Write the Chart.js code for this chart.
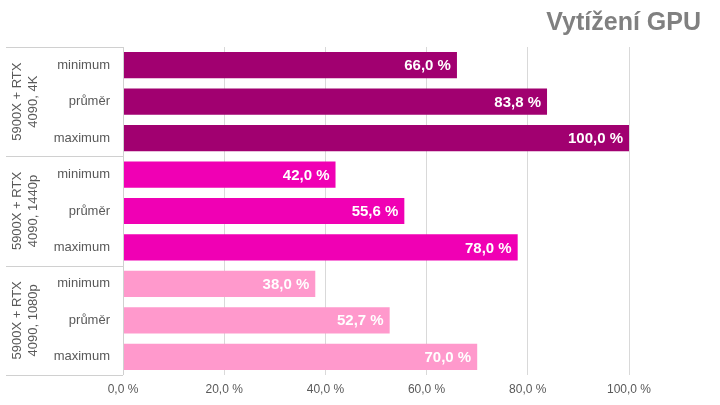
<!DOCTYPE html>
<html>
<head>
<meta charset="utf-8">
<script src="https://cdn.jsdelivr.net/npm/chart.js@4/dist/chart.umd.min.js"></script>
<style>
html,body{margin:0;padding:0;background:#fff;}
#wrap{width:720px;height:405px;position:relative;}
</style>
</head>
<body>
<div id="wrap"><canvas id="c" width="720" height="405"></canvas></div>
<script>
const titleText = 'Vytížení GPU';
const categories = ['minimum', 'průměr', 'maximum'];
const groups = [['5900X + RTX', '4090, 4K'], ['5900X + RTX', '4090, 1440p'], ['5900X + RTX', '4090, 1080p']];
const values4K = [66.0, 83.8, 100.0];
const values1440 = [42.0, 55.6, 78.0];
const values1080 = [38.0, 52.7, 70.0];
const groupColors = ['#A10070', '#F000B4', '#FF99CC'];
const xTicks = [0, 20, 40, 60, 80, 100];

const groupValues = [values4K, values1440, values1080];
const labels = [];
const data = [];
const colors = [];
groupValues.forEach((vals, g) => {
  vals.forEach((v, i) => {
    labels.push(categories[i]);
    data.push(v);
    colors.push(groupColors[g]);
  });
});

const fmt = v => v.toFixed(1).replace('.', ',') + ' %';

const decor = {
  id: 'decor',
  afterDraw(chart) {
    const ctx = chart.ctx;
    const y = chart.scales.y;
    const area = chart.chartArea;
    const n = categories.length;
    // separators
    ctx.save();
    ctx.strokeStyle = '#d0d0d0';
    ctx.lineWidth = 1;
    const step = (area.bottom - area.top) / labels.length;
    for (let g = 0; g <= groups.length; g++) {
      const yy = Math.round(area.top + g * n * step) + 0.5;
      ctx.beginPath();
      ctx.moveTo(6, yy);
      ctx.lineTo(area.left, yy);
      ctx.stroke();
    }
    // axis line
    ctx.beginPath();
    ctx.moveTo(Math.round(area.left) + 0.5, area.top);
    ctx.lineTo(Math.round(area.left) + 0.5, area.bottom);
    ctx.stroke();
    // group labels
    ctx.fillStyle = '#595959';
    ctx.font = '13px "Liberation Sans", Arial, sans-serif';
    ctx.textAlign = 'center';
    ctx.textBaseline = 'middle';
    groups.forEach((lines, g) => {
      const yc = (y.getPixelForValue(g * n) + y.getPixelForValue(g * n + n - 1)) / 2;
      ctx.save();
      ctx.translate(25, yc);
      ctx.rotate(-Math.PI / 2);
      ctx.fillText(lines[0], 0, -8);
      ctx.fillText(lines[1], 0, 8);
      ctx.restore();
    });
    // data labels
    const meta = chart.getDatasetMeta(0);
    ctx.fillStyle = '#ffffff';
    ctx.font = 'bold 15px "Liberation Sans", Arial, sans-serif';
    ctx.textAlign = 'right';
    meta.data.forEach((bar, i) => {
      ctx.fillText(fmt(data[i]), bar.x - 6, bar.y + 1);
    });
    // title
    ctx.fillStyle = '#808080';
    ctx.font = 'bold 25px "Liberation Sans", Arial, sans-serif';
    ctx.textAlign = 'right';
    ctx.textBaseline = 'alphabetic';
    ctx.fillText(titleText, 701, 30);
    ctx.restore();
  }
};

new Chart(document.getElementById('c'), {
  type: 'bar',
  data: {
    labels: labels,
    datasets: [{
      data: data,
      backgroundColor: colors,
      borderWidth: 0,
      categoryPercentage: 0.72,
      barPercentage: 1.0
    }]
  },
  options: {
    indexAxis: 'y',
    responsive: false,
    animation: false,
    layout: { padding: { left: 0, right: 91, top: 47, bottom: 0 } },
    plugins: { legend: { display: false }, tooltip: { enabled: false } },
    scales: {
      x: {
        min: 0, max: 100,
        afterFit(s) { s.height = 30; },
        afterBuildTicks(s) { s.ticks = xTicks.map(v => ({ value: v })); },
        grid: { color: '#d9d9d9', drawTicks: false, lineWidth: 1 },
        border: { display: false },
        ticks: {
          color: '#595959',
          padding: 7,
          font: { family: '"Liberation Sans", Arial, sans-serif', size: 12 },
          callback: v => fmt(v)
        }
      },
      y: {
        afterFit(s) { s.width = 123; },
        grid: { display: false, drawTicks: false },
        border: { display: false },
        ticks: {
          color: '#595959',
          padding: 13,
          font: { family: '"Liberation Sans", Arial, sans-serif', size: 13 }
        }
      }
    }
  },
  plugins: [decor]
});
</script>
</body>
</html>
